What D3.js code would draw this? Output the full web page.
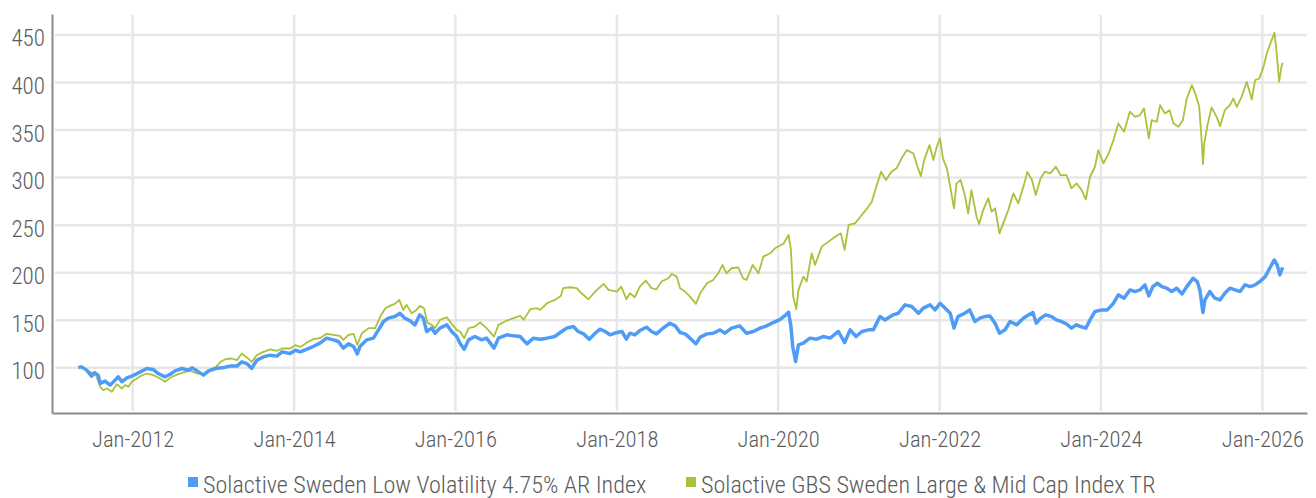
<!DOCTYPE html>
<html>
<head>
<meta charset="utf-8">
<script src="https://cdn.jsdelivr.net/npm/d3@7"></script>
<style>
  html, body { margin: 0; padding: 0; background: #fff; }
  svg { display: block; }
  text { font-family: 'Liberation Sans Narrow', 'Roboto Condensed', 'DejaVu Sans Condensed', sans-serif; font-weight: 300; fill: #5b5b5b; }
</style>
</head>
<body>
<div id="chart"></div>
<script>
// Solactive Sweden Low Volatility 4.75% AR Index
const lowVol = [
  ["2011-04-30",100.3],["2011-05-15",101],["2011-06-07",97.6],["2011-06-29",91.2],["2011-07-14",94.7],["2011-07-29",92.3],
  ["2011-08-07",83.5],["2011-08-29",86],["2011-09-21",81.8],["2011-10-13",87],["2011-10-28",90.5],["2011-11-13",85.3],
  ["2011-12-06",89.5],["2011-12-28",91.2],["2012-02-05",95.8],["2012-03-05",99.3],["2012-04-04",98.2],["2012-04-26",94],
  ["2012-05-26",90.5],["2012-06-19",93.3],["2012-07-11",96.8],["2012-08-11",99.3],["2012-09-10",97.6],["2012-09-25",100],
  ["2012-10-18",96.8],["2012-11-17",92.3],["2012-12-10",96.8],["2013-01-10",99.3],["2013-02-17",100.3],["2013-03-17",101.8],
  ["2013-04-17",101.8],["2013-05-09",106.3],["2013-06-01",104.5],["2013-06-23",99.3],["2013-07-16",108],["2013-08-15",111.5],
  ["2013-09-15",113.3],["2013-10-15",112.3],["2013-11-07",116.8],["2013-12-14",115],["2014-01-06",118.5],["2014-01-29",116.8],
  ["2014-03-06",120.3],["2014-03-28",122.4],["2014-04-28",125.9],["2014-05-28",131.2],["2014-06-27",129.4],["2014-07-20",127.7],
  ["2014-08-12",120.7],["2014-09-04",125.2],["2014-09-27",122.4],["2014-10-14",114.7],["2014-10-26",122.4],["2014-11-26",129.4],
  ["2014-12-26",131.2],["2015-01-18",139.9],["2015-02-10",148.7],["2015-03-03",152.2],["2015-04-02",153.9],["2015-04-25",157.4],
  ["2015-05-17",152.2],["2015-06-09",149.7],["2015-07-02",145.2],["2015-07-24",155.7],["2015-08-09",152.2],["2015-08-24",138.2],
  ["2015-09-16",141.7],["2015-10-01",136.4],["2015-10-23",141.7],["2015-11-23",145.2],["2015-12-15",138.2],["2016-01-07",132.9],
  ["2016-01-22",125.9],["2016-02-10",119.6],["2016-03-01",129.4],["2016-03-29",132.9],["2016-04-29",129.4],["2016-05-21",131.2],
  ["2016-06-24",120.7],["2016-07-14",131.2],["2016-08-21",134.7],["2016-09-20",133.6],["2016-10-20",132.9],["2016-11-20",125.2],
  ["2016-12-19",131.2],["2017-01-19",130.1],["2017-02-19",131.2],["2017-03-26",132.9],["2017-04-26",138.2],["2017-05-19",141.7],
  ["2017-06-18",143.4],["2017-07-10",138.2],["2017-08-03",135.7],["2017-08-29",130.1],["2017-09-25",136.4],["2017-10-17",140.6],
  ["2017-11-09",138.2],["2017-12-01",134.7],["2018-01-01",137.1],["2018-01-24",138.2],["2018-02-13",130.1],["2018-03-01",136.4],
  ["2018-03-23",134.7],["2018-04-15",139.2],["2018-05-15",142.7],["2018-06-07",138.2],["2018-06-29",135.7],["2018-07-29",141.7],
  ["2018-08-29",146.9],["2018-09-22",144.1],["2018-10-14",137.1],["2018-11-06",135.7],["2018-11-28",131.2],["2018-12-25",125.2],
  ["2019-01-13",132.2],["2019-02-13",135.7],["2019-03-13",136.4],["2019-04-13",139.9],["2019-05-05",136.4],["2019-06-04",141.7],
  ["2019-07-11",144.1],["2019-08-11",136.4],["2019-09-11",138.2],["2019-10-11",141.7],["2019-11-10",144.1],["2019-12-10",147.6],
  ["2020-01-10",151],["2020-02-02",155],["2020-02-17",158.5],["2020-02-28",143.4],["2020-03-07",122.4],["2020-03-20",106.7],
  ["2020-04-02",124.2],["2020-04-24",125.9],["2020-05-24",131.2],["2020-06-23",130.1],["2020-07-23",132.9],["2020-08-23",131.2],
  ["2020-09-30",138.2],["2020-10-28",126.6],["2020-11-22",139.9],["2020-12-19",132.9],["2021-01-14",138.2],["2021-02-14",139.9],
  ["2021-03-07",139.9],["2021-04-06",153.9],["2021-04-28",150.4],["2021-06-05",155.7],["2021-06-28",157.4],["2021-07-28",166.2],
  ["2021-08-28",164.4],["2021-09-27",157.4],["2021-10-19",162.7],["2021-11-19",166.2],["2021-12-11",160.9],["2022-01-03",167.9],
  ["2022-01-26",162.7],["2022-02-18",157.4],["2022-03-07",141.7],["2022-03-25",153.9],["2022-04-25",157.4],["2022-05-17",160.9],
  ["2022-06-10",148.7],["2022-07-02",152.2],["2022-07-24",153.9],["2022-08-17",154.6],["2022-09-09",146.9],["2022-09-29",136.4],
  ["2022-10-24",139.9],["2022-11-16",148.7],["2022-12-16",145.2],["2023-01-15",152.2],["2023-02-08",155.7],["2023-02-27",158.1],
  ["2023-03-15",146.9],["2023-04-03",152.2],["2023-04-26",155.7],["2023-05-22",153.9],["2023-06-14",150.4],["2023-07-06",148.7],
  ["2023-07-29",146.2],["2023-08-21",141.7],["2023-09-13",145.2],["2023-10-01",143.4],["2023-10-25",141.7],["2023-11-13",150.4],
  ["2023-12-05",159.2],["2024-01-05",160.9],["2024-01-30",160.9],["2024-02-27",167.9],["2024-03-20",176.7],["2024-04-15",173.2],
  ["2024-05-11",181.9],["2024-06-04",180.2],["2024-06-26",181.9],["2024-07-18",187.2],["2024-08-05",175.6],["2024-08-23",185.4],
  ["2024-09-13",188.9],["2024-10-03",185.4],["2024-10-25",183.7],["2024-11-17",180.2],["2024-12-09",183.7],["2025-01-02",177.7],
  ["2025-01-24",185.4],["2025-02-21",194.2],["2025-03-12",190.7],["2025-03-24",181.9],["2025-04-07",158.1],["2025-04-16",171.4],
  ["2025-05-08",180.2],["2025-05-31",173.2],["2025-06-23",171.4],["2025-07-15",178.4],["2025-08-07",183.7],["2025-08-30",181.9],
  ["2025-09-22",180.2],["2025-10-14",187.2],["2025-11-07",185.4],["2025-11-29",187.2],["2025-12-21",190.7],["2026-01-14",195.9],
  ["2026-02-03",204.7],["2026-02-24",213.4],["2026-03-09",208.2],["2026-03-21",197.7],["2026-04-03",205.7]
];

// Solactive GBS Sweden Large & Mid Cap Index TR
const gbsSweden = [
  ["2011-04-30",100.3],["2011-05-07",101],["2011-06-07",97.6],["2011-06-29",94.7],["2011-07-14",95.8],["2011-08-07",80],
  ["2011-08-21",76.5],["2011-09-07",78.3],["2011-09-29",74.8],["2011-10-21",82.8],["2011-11-13",78.3],["2011-11-28",81.8],
  ["2011-12-13",80],["2011-12-28",85.3],["2012-02-05",91.2],["2012-03-05",94],["2012-04-04",92.3],["2012-05-04",88.8],
  ["2012-05-26",85.3],["2012-06-26",90.5],["2012-07-26",93.3],["2012-08-26",95.8],["2012-09-18",96.8],["2012-10-18",94],
  ["2012-11-17",94],["2012-12-10",97.6],["2013-01-10",100.3],["2013-02-02",106.3],["2013-02-24",109.1],["2013-03-24",109.8],
  ["2013-04-17",108],["2013-05-09",115],["2013-06-01",110.9],["2013-06-23",106.3],["2013-07-16",113.3],["2013-08-15",116.8],
  ["2013-09-15",119.3],["2013-10-15",117.9],["2013-11-07",120.3],["2013-12-14",120.3],["2014-01-06",123.8],["2014-01-29",122],
  ["2014-03-06",127.3],["2014-03-28",130.1],["2014-04-28",131.2],["2014-05-28",135.7],["2014-06-27",134.7],["2014-07-27",133.6],
  ["2014-08-12",129.4],["2014-09-04",134.7],["2014-09-27",135.7],["2014-10-14",124.2],["2014-11-04",136.4],["2014-12-04",141.7],
  ["2015-01-03",141.7],["2015-01-26",153.9],["2015-02-18",162.7],["2015-03-10",165.1],["2015-04-02",167.2],["2015-04-22",171.4],
  ["2015-05-10",160.9],["2015-05-25",166.2],["2015-06-17",157.4],["2015-07-09",160.9],["2015-07-24",165.1],["2015-08-12",162.7],
  ["2015-08-27",147.6],["2015-09-16",145.2],["2015-10-01",141.7],["2015-10-23",150.4],["2015-11-23",153.2],["2015-12-15",146.2],
  ["2016-01-07",139.9],["2016-01-22",138.2],["2016-02-10",131.2],["2016-03-01",141.7],["2016-03-29",143.4],["2016-04-22",147.6],
  ["2016-05-21",141.7],["2016-06-24",132.9],["2016-07-14",145.2],["2016-08-21",149.7],["2016-09-20",152.2],["2016-10-20",154.6],
  ["2016-11-05",150.4],["2016-12-05",161.6],["2017-01-04",162.7],["2017-01-19",160.9],["2017-02-19",167.9],["2017-03-26",171.4],
  ["2017-04-22",175.6],["2017-05-03",183.7],["2017-06-03",184.7],["2017-07-03",183.7],["2017-07-25",178.4],["2017-08-25",172.1],
  ["2017-09-25",180.2],["2017-11-02",188.2],["2017-11-24",181.9],["2018-01-01",180.2],["2018-01-21",185.4],["2018-02-13",172.1],
  ["2018-03-01",178.4],["2018-03-23",174.2],["2018-04-15",185.4],["2018-05-12",191.7],["2018-06-07",183.7],["2018-06-29",182.6],
  ["2018-07-22",190.7],["2018-08-22",194.2],["2018-09-07",198.7],["2018-09-29",195.9],["2018-10-14",183.7],["2018-11-06",180.2],
  ["2018-11-28",174.9],["2018-12-25",167.2],["2019-01-13",178.4],["2019-02-13",188.9],["2019-03-13",192.4],["2019-04-05",199.4],
  ["2019-04-24",208.2],["2019-05-12",199.4],["2019-06-04",204.7],["2019-07-04",205.7],["2019-07-26",194.2],["2019-08-11",192.4],
  ["2019-09-08",208.2],["2019-10-04",199.4],["2019-10-26",216.9],["2019-11-26",220.4],["2019-12-18",225.7],["2020-01-25",230.5],
  ["2020-02-17",239.7],["2020-02-28",223.9],["2020-03-09",174.9],["2020-03-23",161.6],["2020-04-02",181.9],["2020-04-24",195.9],
  ["2020-05-09",190.7],["2020-06-01",220.4],["2020-06-16",208.2],["2020-07-16",227.4],["2020-08-16",232.7],["2020-09-15",237.9],
  ["2020-10-11",241.4],["2020-10-28",223.9],["2020-11-15",250.2],["2020-12-14",251.9],["2021-01-07",258.9],["2021-02-07",267.7],
  ["2021-02-28",274.7],["2021-03-18",288.7],["2021-04-11",306.2],["2021-05-03",297.4],["2021-05-28",306.2],["2021-06-20",309.7],
  ["2021-07-13",320.2],["2021-08-05",328.9],["2021-09-05",325.4],["2021-09-20",313.2],["2021-10-08",301.6],["2021-10-23",318.4],
  ["2021-11-16",334.2],["2021-12-04",318.4],["2021-12-19",332.4],["2022-01-03",341.2],["2022-01-16",320.2],["2022-02-03",309.7],
  ["2022-02-18",290.4],["2022-03-07",267.7],["2022-03-18",293.9],["2022-04-06",297.4],["2022-04-25",281.7],["2022-05-10",262.4],
  ["2022-05-25",286.9],["2022-06-17",258.9],["2022-06-29",251.2],["2022-07-17",265.9],["2022-08-09",278.2],["2022-08-24",264.2],
  ["2022-09-09",267.7],["2022-09-29",241.4],["2022-10-16",251.9],["2022-11-08",265.9],["2022-12-01",283.4],["2022-12-23",272.9],
  ["2023-01-15",290],["2023-02-02",306],["2023-02-23",297.4],["2023-03-12",281.7],["2023-04-03",299.2],["2023-04-22",306.2],
  ["2023-05-17",304.4],["2023-06-11",311.4],["2023-07-02",302.7],["2023-07-29",302.7],["2023-08-21",288.7],["2023-09-13",293.9],
  ["2023-10-06",286.9],["2023-10-25",277.1],["2023-11-13",300.9],["2023-12-05",311.4],["2023-12-20",328.9],["2024-01-13",314.9],
  ["2024-02-05",325.4],["2024-02-27",339.4],["2024-03-20",356.9],["2024-04-15",348.2],["2024-05-11",369.2],["2024-06-04",363.9],
  ["2024-06-26",365.7],["2024-07-14",372.7],["2024-08-05",341.2],["2024-08-18",360.4],["2024-09-10",358.7],["2024-09-25",376.2],
  ["2024-10-17",367.4],["2024-11-07",370.9],["2024-11-25",356.9],["2024-12-17",353.4],["2025-01-06",360.4],["2025-01-24",383.2],
  ["2025-02-16",397.2],["2025-03-06",386.7],["2025-03-21",374.4],["2025-03-31",342.9],["2025-04-07",314.2],["2025-04-13",335.9],
  ["2025-04-26",353.4],["2025-05-16",373.7],["2025-06-08",363.9],["2025-06-23",354.1],["2025-07-15",370.9],["2025-08-07",376.2],
  ["2025-08-23",383.2],["2025-09-07",374.4],["2025-09-29",384.9],["2025-10-22",400.7],["2025-11-14",382.1],["2025-11-29",402.4],
  ["2025-12-18",404.2],["2026-01-06",416.4],["2026-01-21",430.4],["2026-02-09",442.7],["2026-02-25",452.1],["2026-03-06",432.2],
  ["2026-03-18",400.7],["2026-03-28",416.4],["2026-04-03",420.6]
];

const yTicks = [100, 150, 200, 250, 300, 350, 400, 450];
const xTicks = ["2012-01-01", "2014-01-01", "2016-01-01", "2018-01-01", "2020-01-01", "2022-01-01", "2024-01-01", "2026-01-01"];
const seriesNames = ["Solactive Sweden Low Volatility 4.75% AR Index", "Solactive GBS Sweden Large & Mid Cap Index TR"];
const seriesColors = ["#4f9cf6", "#a9c23c"];

const width = 1316, height = 498;
const plotLeft = 52, plotRight = 1307, plotTop = 14, plotBottom = 413;
const parse = d3.timeParse('%Y-%m-%d');

const svg = d3.select('#chart').append('svg')
  .attr('width', width)
  .attr('height', height);

const x = d3.scaleTime()
  .domain([new Date(2011, 0, 1), new Date(2026, 6, 22)])
  .range([plotLeft, plotRight]);

const y = d3.scaleLinear()
  .domain([52.5, 472])
  .range([plotBottom, plotTop]);

// Gridlines
svg.append('g')
  .selectAll('line')
  .data(yTicks)
  .join('line')
  .attr('x1', plotLeft + 3).attr('x2', plotRight)
  .attr('y1', d => y(d)).attr('y2', d => y(d))
  .attr('stroke', '#e7e7e7')
  .attr('stroke-width', 2.5);

svg.append('g')
  .selectAll('line')
  .data(xTicks.map(parse))
  .join('line')
  .attr('x1', d => x(d)).attr('x2', d => x(d))
  .attr('y1', plotTop + 1).attr('y2', plotBottom - 2)
  .attr('stroke', '#e7e7e7')
  .attr('stroke-width', 2.5);

// Axes
const yAxis = svg.append('g')
  .attr('transform', `translate(${plotLeft},0)`)
  .call(d3.axisLeft(y).tickValues(yTicks).tickSize(0).tickSizeOuter(0).tickPadding(7));
yAxis.select('.domain').attr('stroke', '#8a8a8a').attr('stroke-width', 2);
yAxis.selectAll('text').attr('font-size', 23).attr('dy', '0.48em');

const xAxis = svg.append('g')
  .attr('transform', `translate(0,${plotBottom})`)
  .call(d3.axisBottom(x).tickValues(xTicks.map(parse)).tickFormat(d3.timeFormat('%b-%Y'))
    .tickSize(0).tickSizeOuter(0).tickPadding(18));
xAxis.select('.domain').attr('stroke', '#8a8a8a').attr('stroke-width', 2);
xAxis.selectAll('text').attr('font-size', 22.6);
svg.selectAll('.tick text').attr('fill', '#5b5b5b');
svg.selectAll('g[font-family]').attr('font-family', null);

// Lines
const line = d3.line()
  .x(d => x(parse(d[0])))
  .y(d => y(d[1]));

svg.append('path')
  .datum(gbsSweden)
  .attr('fill', 'none')
  .attr('stroke', seriesColors[1])
  .attr('stroke-width', 1.8)
  .attr('stroke-linejoin', 'round')
  .attr('d', line);

svg.append('path')
  .datum(lowVol)
  .attr('fill', 'none')
  .attr('stroke', seriesColors[0])
  .attr('stroke-width', 3.5)
  .attr('stroke-linejoin', 'round')
  .attr('d', line);

// Legend
const legendX = [188, 686];
const legend = svg.append('g')
  .selectAll('g')
  .data(seriesNames)
  .join('g')
  .attr('transform', (d, i) => `translate(${legendX[i]},0)`);

legend.append('rect')
  .attr('x', 0).attr('y', 477)
  .attr('width', 10).attr('height', 10)
  .attr('fill', (d, i) => seriesColors[i]);

legend.append('text')
  .attr('x', 15).attr('y', 493)
  .attr('font-size', 24.1)
  .text(d => d);
</script>
</body>
</html>
